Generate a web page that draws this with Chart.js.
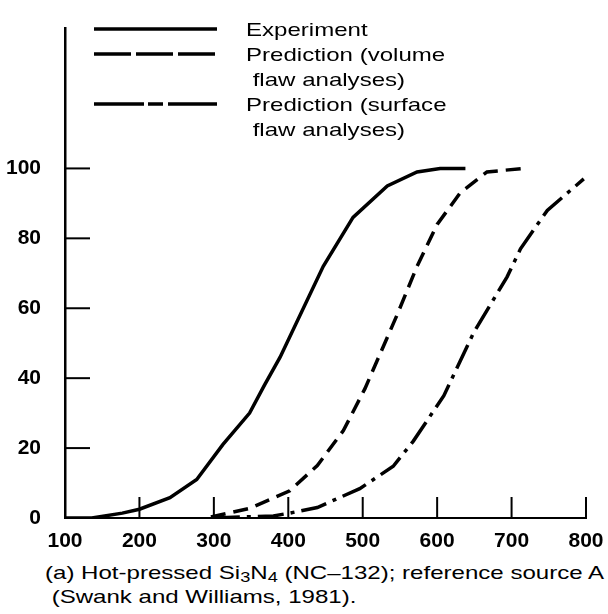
<!DOCTYPE html>
<html>
<head>
<meta charset="utf-8">
<script src="https://cdn.jsdelivr.net/npm/chart.js@4"></script>
<style>
  html, body { margin: 0; padding: 0; background: #fff; }
  #wrap { position: relative; width: 608px; height: 614px; overflow: hidden; }
  #chart { position: absolute; left: 0; top: 0; }
  #caption {
    position: absolute; left: 45px; top: 561px;
    font-family: "Liberation Sans", Arial, sans-serif; font-size: 18.5px;
    line-height: 24px; color: #000; white-space: nowrap;
    transform: scaleX(1.3); transform-origin: 0 0;
  }
  #caption sub { font-size: 14px; vertical-align: -3px; line-height: 0; }
</style>
</head>
<body>
<div id="wrap">
  <canvas id="chart" width="608" height="560"></canvas>
  <div id="caption">(a) Hot-pressed Si<sub>3</sub>N<sub>4</sub> (NC&#8211;132); reference source A<br>&nbsp;(Swank and Williams, 1981).</div>
</div>
<script>
// values
const experimentX = [100, 136, 177, 200, 241, 277, 312, 348, 368, 389, 447, 487, 533, 573, 604, 638];
const experimentY = [0, 0, 1.4, 2.5, 5.8, 11, 21, 30, 38, 46, 72, 86, 95, 99, 100, 100];

const volumeX = [296, 349, 402, 439, 474, 503, 546, 573, 600, 631, 667, 716];
const volumeY = [0.3, 2.8, 7.8, 15, 25, 37, 58, 72, 84, 93, 99, 100];

const surfaceX = [300, 380, 402, 439, 496, 541, 568, 609, 649, 694, 712, 748, 797];
const surfaceY = [0, 0.6, 1.4, 3, 8.4, 14.8, 22, 35, 53, 69, 77, 88, 97];

const legendLabels = [
    ['Experiment'],
    ['Prediction (volume', ' flaw analyses)'],
    ['Prediction (surface', ' flaw analyses)']
];

const xTicks = [100, 200, 300, 400, 500, 600, 700, 800];
const yTicks = [0, 20, 40, 60, 80, 100];

const FONT = '"Liberation Sans", Arial, sans-serif';

function points(xs, ys) {
    return xs.map((x, i) => ({ x: x, y: ys[i] }));
}

// tick marks drawn inside the axes, plus the legend in the top left
const figurePlugin = {
    id: 'figure',
    afterDatasetsDraw(chart) {
        const ctx = chart.ctx;
        const xs = chart.scales.x;
        const ys = chart.scales.y;
        const x0 = xs.getPixelForValue(100);
        const y0 = ys.getPixelForValue(0);
        ctx.save();
        ctx.strokeStyle = '#000';
        ctx.lineWidth = 2;
        ctx.setLineDash([]);
        yTicks.forEach(v => {
            if (v === 0) return;
            const y = ys.getPixelForValue(v);
            ctx.beginPath();
            ctx.moveTo(x0, y);
            ctx.lineTo(x0 + 25, y);
            ctx.stroke();
        });
        xTicks.forEach(v => {
            if (v === 100) return;
            const x = xs.getPixelForValue(v);
            ctx.beginPath();
            ctx.moveTo(x, y0);
            ctx.lineTo(x, y0 - 21);
            ctx.stroke();
        });

        // legend (the scanned lettering is wide, so stretch it)
        const rows = [29, 54, 104];
        ctx.font = '18.5px ' + FONT;
        ctx.fillStyle = '#000';
        ctx.textBaseline = 'alphabetic';
        chart.data.datasets.forEach((ds, i) => {
            const y = rows[i];
            ctx.lineWidth = 3.5;
            ctx.setLineDash(ds.legendDash);
            ctx.beginPath();
            ctx.moveTo(94, y);
            ctx.lineTo(217, y);
            ctx.stroke();
            ctx.setLineDash([]);
            legendLabels[i].forEach((line, j) => {
                ctx.save();
                ctx.translate(246, y + 6.5 + j * 25);
                ctx.scale(1.3, 1);
                ctx.fillText(line, 0, 0);
                ctx.restore();
            });
        });
        ctx.restore();
    }
};

new Chart(document.getElementById('chart'), {
    type: 'line',
    data: {
        datasets: [
            {
                label: 'Experiment',
                data: points(experimentX, experimentY),
                borderColor: '#000',
                borderWidth: 3.5,
                borderDash: [],
                legendDash: [],
                pointRadius: 0,
                tension: 0
            },
            {
                label: 'Prediction (volume flaw analyses)',
                data: points(volumeX, volumeY),
                borderColor: '#000',
                borderWidth: 3.5,
                borderDash: [15, 8],
                legendDash: [37, 5],
                pointRadius: 0,
                tension: 0
            },
            {
                label: 'Prediction (surface flaw analyses)',
                data: points(surfaceX, surfaceY),
                borderColor: '#000',
                borderWidth: 3.5,
                borderDash: [26, 7, 4, 7],
                legendDash: [50, 4, 15, 5, 60],
                pointRadius: 0,
                tension: 0
            }
        ]
    },
    options: {
        responsive: false,
        animation: false,
        layout: { padding: { top: 15, right: 22, left: 0, bottom: 0 } },
        plugins: {
            legend: { display: false },
            tooltip: { enabled: false }
        },
        scales: {
            x: {
                type: 'linear',
                min: 100,
                max: 800,
                afterBuildTicks: s => { s.ticks = xTicks.map(v => ({ value: v })); },
                afterFit: s => { s.height = 42; },
                grid: { display: false },
                border: { display: true, color: '#000', width: 2 },
                ticks: {
                    padding: 3,
                    color: '#000',
                    font: { family: FONT, size: 21, weight: 'bold' }
                }
            },
            y: {
                min: 0,
                max: 140,
                afterBuildTicks: s => { s.ticks = yTicks.map(v => ({ value: v })); },
                afterFit: s => { s.width = 65; },
                grid: { display: false },
                border: { display: true, color: '#000', width: 2.5 },
                ticks: {
                    padding: 16,
                    color: '#000',
                    font: { family: FONT, size: 21, weight: 'bold' }
                }
            }
        }
    },
    plugins: [figurePlugin]
});
</script>
</body>
</html>
